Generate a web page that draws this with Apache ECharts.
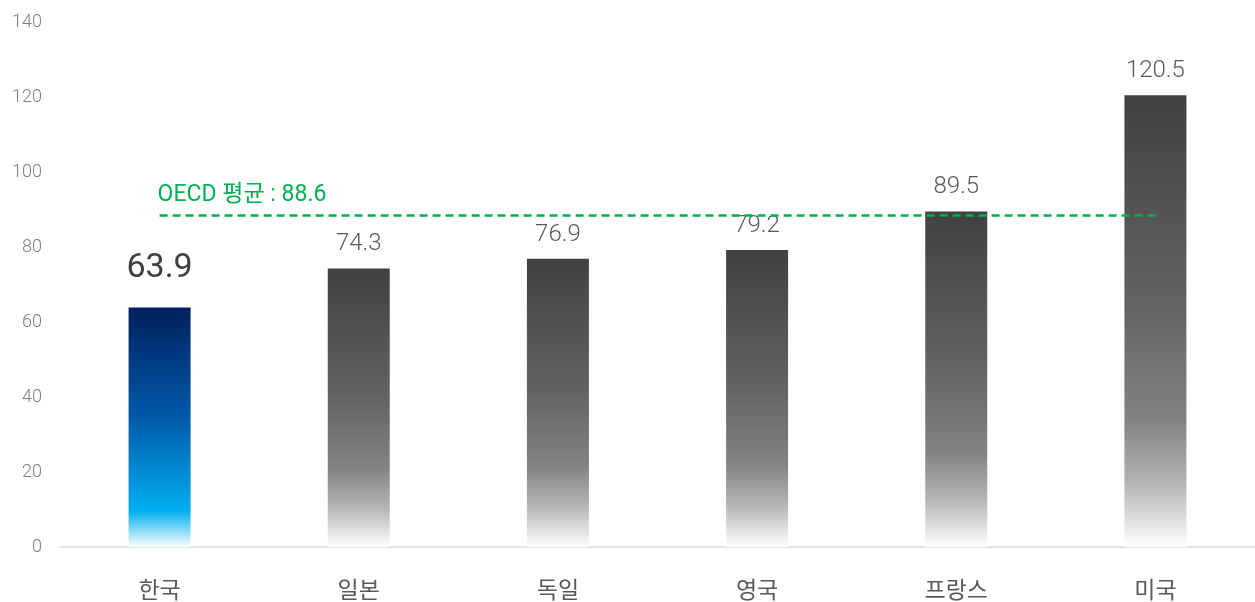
<!DOCTYPE html>
<html><head><meta charset="utf-8">
<script src="https://cdn.jsdelivr.net/npm/echarts@6/dist/echarts.min.js"></script>
<style>html,body{margin:0;padding:0;background:#fff}#c{width:1255px;height:602px}</style>
</head><body><div id="c"></div>
<script>
var categories = ['한국','일본','독일','영국','프랑스','미국'];
var values = [63.9, 74.3, 76.9, 79.2, 89.5, 120.5];
var oecdAvg = 88.6;
var oecdLabel = 'OECD 평균 : ';
var yTicks = {min: 0, max: 140, interval: 20};

var FONT = 'Roboto, "Noto Sans CJK KR", sans-serif';
function grad(stops){
  return new echarts.graphic.LinearGradient(0,0,0,1,stops.map(function(s){return {offset:s[0],color:s[1]};}));
}
var blue = grad([[0,'#00205e'],[0.45,'#0058a8'],[0.85,'#00aef0'],[1,'#ffffff']]);
var gray = grad([[0,'#414141'],[0.45,'#626262'],[0.72,'#838383'],[0.86,'#b5b5b5'],[1,'#ffffff']]);

var data = values.map(function(v,i){
  var first = i===0;
  return {
    value: v,
    itemStyle: {color: first ? blue : gray},
    label: first ? {fontSize: 34, fontWeight: 'normal', color: '#404040', distance: 22} : {fontSize: 24, fontWeight: 300, color: '#595959', distance: 12}
  };
});

var chart = echarts.init(document.getElementById('c'));
chart.setOption({
  animation: false,
  grid: {left: 60, right: 0, top: 22, bottom: 55, outerBoundsMode: 'none', containLabel: false},
  xAxis: {
    type: 'category', data: categories,
    axisLine: {lineStyle: {color: '#d9d9d9', width: 1.5}},
    axisTick: {show: false},
    axisLabel: {fontSize: 23, color: '#595959', margin: 34, fontFamily: FONT}
  },
  yAxis: {
    type: 'value', min: yTicks.min, max: yTicks.max, interval: yTicks.interval,
    splitLine: {show: false},
    axisLine: {show: false}, axisTick: {show: false},
    axisLabel: {fontSize: 18, fontWeight: 300, color: '#7f7f7f', margin: 18, fontFamily: FONT}
  },
  series: [{
    type: 'bar', data: data, barWidth: 62,
    label: {show: true, position: 'top', fontFamily: FONT},
    markLine: {
      symbol: 'none', silent: true,
      lineStyle: {color: '#00b050', type: [8,5], width: 2.5},
      label: {show: true, position: 'insideStartTop', formatter: oecdLabel + oecdAvg,
        color: '#00b050', fontSize: 23, fontFamily: FONT, distance: [-2, 8]},
      data: [[{coord: [categories[0], oecdAvg]}, {coord: [categories[categories.length-1], oecdAvg]}]]
    }
  }]
});
</script></body></html>
